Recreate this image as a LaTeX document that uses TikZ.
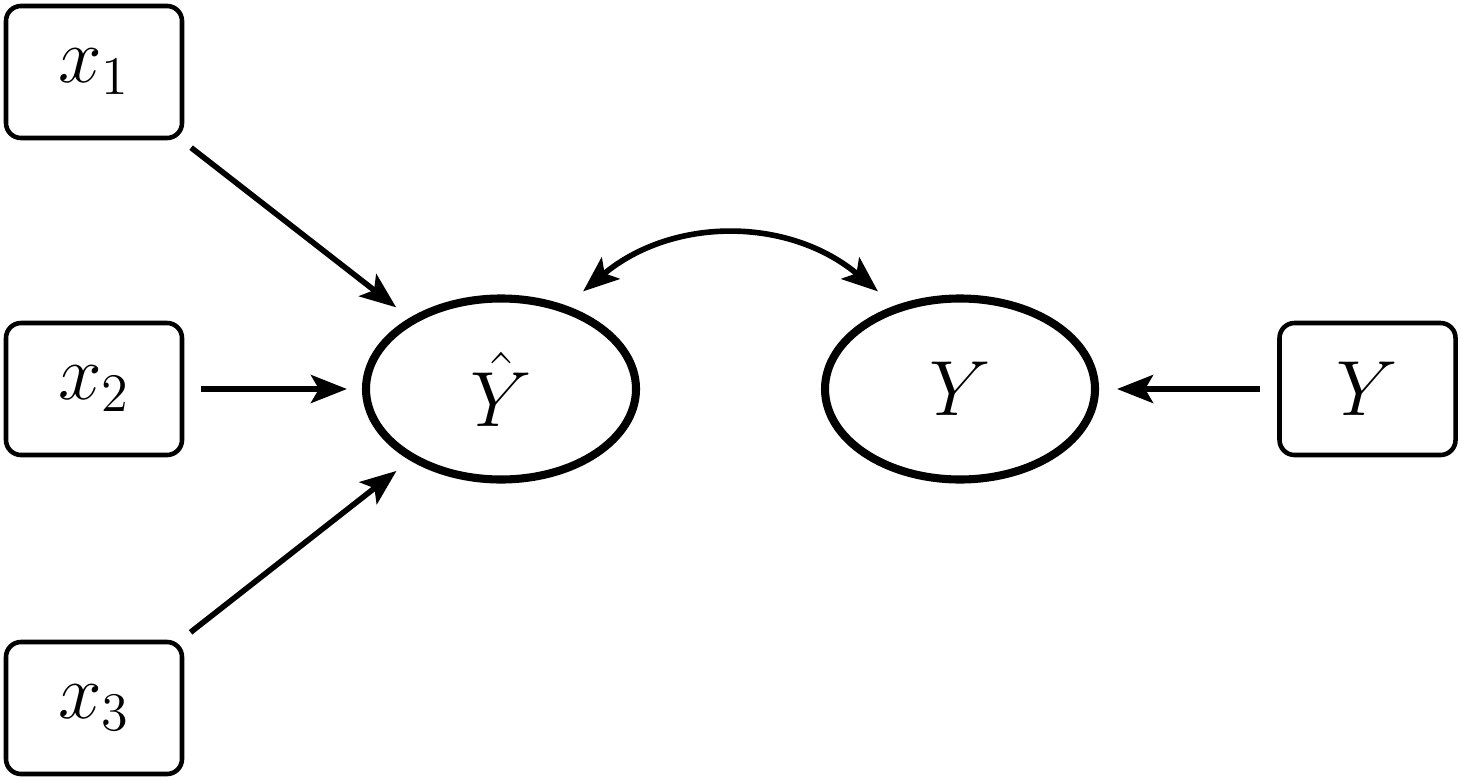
\documentclass[tikz,border=0pt]{standalone}
\usetikzlibrary{arrows.meta,shapes.geometric}
\newcommand{\bigtxt}[1]{\scalebox{1.073}{\huge #1}}
\begin{document}
\begin{tikzpicture}[
  inbox/.style={draw, line width=1.3pt, rounded corners=0.15cm, minimum width=1.76cm, minimum height=1.32cm, inner sep=0pt},
  oval/.style={draw, ellipse, line width=2.3pt, minimum width=2.70cm, minimum height=1.81cm, inner sep=0pt},
  tipA/.style={},
  conn/.style={line width=1.6pt, -{Stealth[length=0.36cm, width=0.28cm, inset=0.08cm]}},
  dconn/.style={line width=1.6pt, {Stealth[length=0.36cm, width=0.28cm, inset=0.08cm]}-{Stealth[length=0.36cm, width=0.28cm, inset=0.08cm]}}
]
\useasboundingbox (0,0) rectangle (14.62,7.79);
\node[inbox] (x1) at (0.94,7.07) {\bigtxt{$x_1$}};
\node[inbox] (x2) at (0.94,3.90) {\bigtxt{$x_2$}};
\node[inbox] (x3) at (0.94,0.71) {\bigtxt{$x_3$}};
\node[oval] (yhat) at (5.01,3.90) {\bigtxt{$\hat{Y}$}};
\node[oval] (y) at (9.60,3.90) {\bigtxt{$Y$}};
\node[inbox] (yb) at (13.675,3.90) {\bigtxt{$Y$}};
\draw[conn, shorten <=0.12cm, shorten >=0.17cm] (x1) -- (yhat);
\draw[conn, shorten <=0.12cm, shorten >=0.17cm] (x3) -- (yhat);
\draw[conn, shorten <=0.17cm, shorten >=0.15cm] (x2) -- (yhat);
\draw[conn, shorten <=0.17cm, shorten >=0.18cm] (yb) -- (y);
\draw[dconn, shorten <=0.22cm, shorten >=0.22cm] (yhat.52) to[out=40, in=140, looseness=1.08] (y.128);
\end{tikzpicture}
\end{document}
